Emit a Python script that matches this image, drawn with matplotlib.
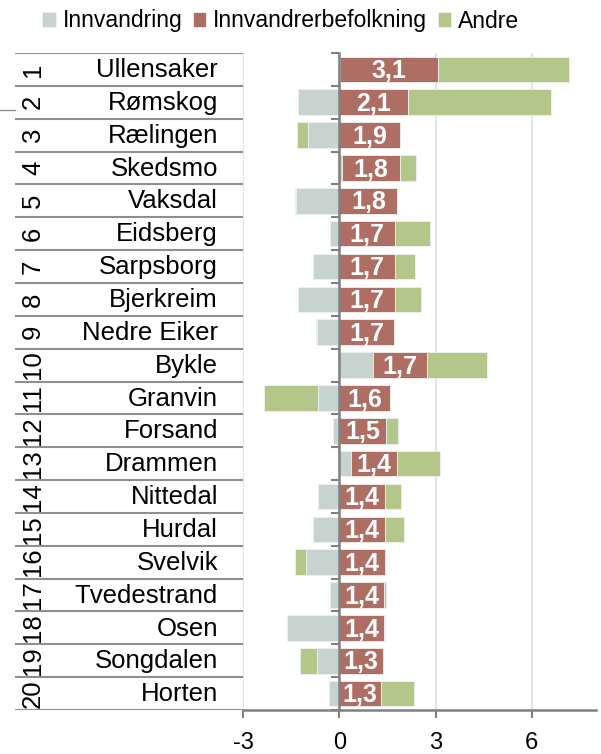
import matplotlib.pyplot as plt
import numpy as np
from matplotlib.lines import Line2D

plt.rcParams['font.family'] = ['Liberation Sans', 'DejaVu Sans']

# data
kommuner = ['Ullensaker', 'Rømskog', 'Rælingen', 'Skedsmo', 'Vaksdal', 'Eidsberg',
            'Sarpsborg', 'Bjerkreim', 'Nedre Eiker', 'Bykle', 'Granvin', 'Forsand',
            'Drammen', 'Nittedal', 'Hurdal', 'Svelvik', 'Tvedestrand', 'Osen',
            'Songdalen', 'Horten']
innvandring = [0.02, -1.29, -0.98, 0.10, -1.35, -0.28, -0.82, -1.29, -0.70, 1.05,
               -0.66, -0.18, 0.36, -0.67, -0.82, -1.04, -0.29, -1.63, -0.69, -0.33]
innv_befolkning = [3.05, 2.13, 1.90, 1.78, 1.81, 1.73, 1.73, 1.73, 1.72, 1.68,
                   1.57, 1.46, 1.43, 1.43, 1.42, 1.42, 1.40, 1.38, 1.36, 1.31]
andre = [4.10, 4.47, -0.34, 0.50, -0.03, 1.09, 0.64, 0.81, -0.02, 1.86,
         -1.70, 0.38, 1.36, 0.50, 0.61, -0.34, 0.06, 0.05, -0.53, 1.01]
etiketter = ['3,1', '2,1', '1,9', '1,8', '1,8', '1,7', '1,7', '1,7', '1,7', '1,7',
             '1,6', '1,5', '1,4', '1,4', '1,4', '1,4', '1,4', '1,4', '1,3', '1,3']

c_innv = '#c6d3ce'
c_bef = '#ae6e64'
c_andre = '#b3c78b'

fig = plt.figure(figsize=(6.01, 7.54), dpi=100)
ax = fig.add_axes([243/601, 1-710/754, (596-243)/601, (710-53)/754])

y = np.arange(len(kommuner))
g = np.array(innvandring)
r = np.array(innv_befolkning)
a = np.array(andre)

r_left = np.maximum(g, 0)
a_left = np.where(a >= 0, r_left + r, np.minimum(g, 0))

h = 0.78
ax.barh(y, g, height=h, color=c_innv, edgecolor='#eef2ef', linewidth=0.6, label='Innvandring', zorder=3)
ax.barh(y, r, left=r_left, height=h, color=c_bef, edgecolor='#eef2ef', linewidth=0.6,
        label='Innvandrerbefolkning', zorder=3)
ax.barh(y, a, left=a_left, height=h, color=c_andre, edgecolor='#eef2ef', linewidth=0.6,
        label='Andre', zorder=3)

for i in range(len(kommuner)):
    ax.text(r_left[i] + r[i]/2, y[i] + 0.05, etiketter[i], color='white', fontsize=18,
            fontweight='bold', ha='center', va='center', zorder=4)

ax.set_xlim(-3, 8)
ax.set_ylim(len(kommuner) - 0.5, -0.5)
ax.set_xticks([-3, 0, 3, 6])
ax.set_xticklabels(['-3', '0', '3', '6'], fontsize=17)
ax.set_yticks(np.arange(len(kommuner) + 1) - 0.5)
ax.set_yticklabels([])
ax.tick_params(axis='y', length=6, width=1.5, color='#808080', direction='out')
ax.tick_params(axis='x', length=6, width=1.5, color='#808080', pad=10)

ax.spines['left'].set_position(('data', 0))
ax.spines['left'].set_color('#808080')
ax.spines['left'].set_linewidth(1.8)
ax.spines['left'].set_zorder(5)
ax.spines['bottom'].set_color('#808080')
ax.spines['bottom'].set_linewidth(1.8)
ax.spines['top'].set_visible(False)
ax.spines['right'].set_visible(False)
ax.grid(axis='x', color='#dfe6e6', linewidth=1.5, zorder=0)
ax.axvline(-3, color='#e6ecec', linewidth=1.2, zorder=0)

# table on the left
tax = fig.add_axes([15/601, 1-710/754, (243-15)/601, (710-53)/754])
tax.set_xlim(0, 228)
tax.set_ylim(len(kommuner) - 0.5, -0.5)
tax.axis('off')
for b in np.arange(len(kommuner) + 1) - 0.5:
    tax.plot([0, 55], [b, b], color='#8f8f8f', linewidth=1.5, solid_capstyle='butt')
    tax.plot([55, 228], [b, b], color='#8f8f8f', linewidth=1.5, solid_capstyle='butt')
for i, navn in enumerate(kommuner):
    tax.text(203, y[i] + 0.02, navn, fontsize=18.5, ha='right', va='center')
    tax.text(18, y[i], str(i + 1), fontsize=18.5, rotation=90, ha='center', va='center')

fig.add_artist(Line2D([0, 15/601], [1-110/754, 1-110/754], color='#8f8f8f', linewidth=1))

fig.legend(loc='center', bbox_to_anchor=(0.467, 1-21/754), ncol=3, frameon=False,
           fontsize=16.5, handlelength=0.6, handleheight=0.6, handletextpad=0.3,
           columnspacing=0.45, borderaxespad=0)

fig.savefig('out.png', dpi=100)
